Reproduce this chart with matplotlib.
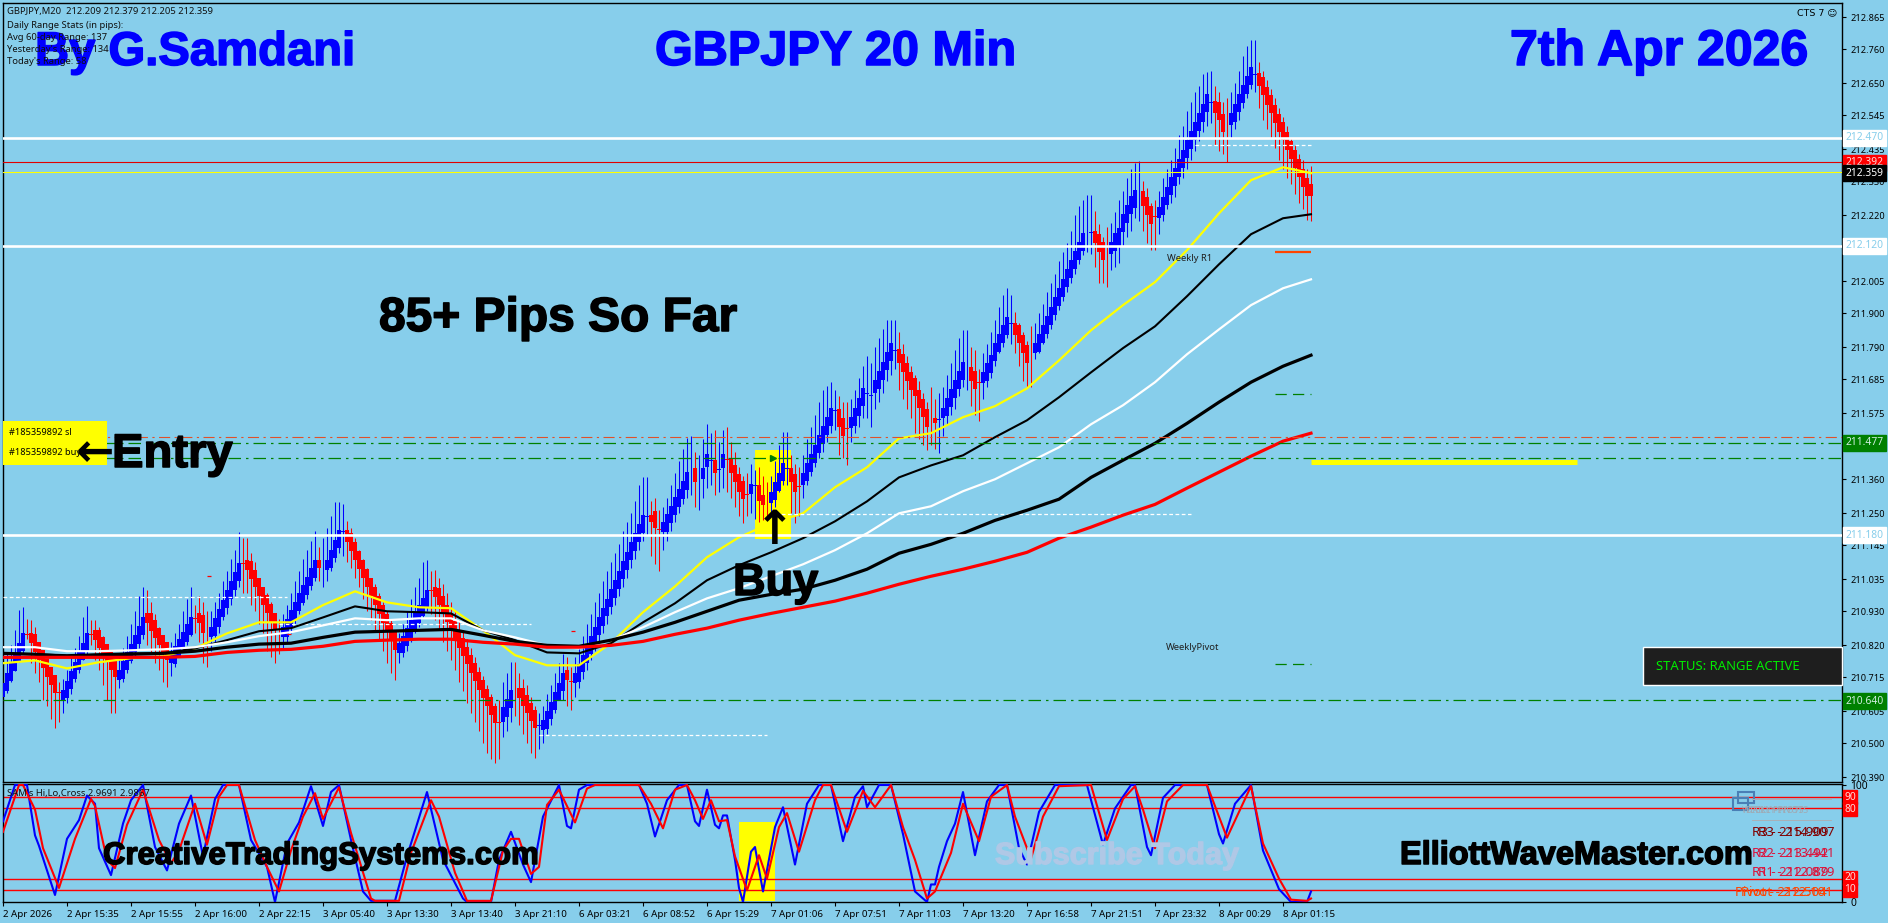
import matplotlib
matplotlib.use('Agg')
import matplotlib.pyplot as plt
import matplotlib.patheffects as pe
import numpy as np
from matplotlib.patches import Rectangle

# GBPJPY M20 candles, one bar at a time
closes = [
    210.696, 210.728, 210.761, 210.794, 210.826, 210.859, 210.852,
    210.826, 210.799, 210.772, 210.745, 210.717, 210.690, 210.663, 210.663,
    210.673, 210.704, 210.735, 210.766, 210.797, 210.828, 210.859, 210.852,
    210.836, 210.812, 210.788, 210.764, 210.740, 210.715,
    210.738, 210.767, 210.796, 210.825, 210.854, 210.882, 210.911,
    210.891, 210.867, 210.843, 210.819, 210.795, 210.771,
    210.793, 210.817, 210.840, 210.864, 210.888, 210.911,
    210.905, 210.891, 210.859, 210.855,
    210.878, 210.908, 210.938, 210.968, 210.998, 211.028, 211.058, 211.087, 211.085,
    211.064, 211.036, 211.008, 210.980, 210.952, 210.924, 210.896, 210.868, 210.868,
    210.878, 210.905, 210.933, 210.960, 210.988, 211.015, 211.042, 211.070, 211.097,
    211.070, 211.072, 211.097, 211.130, 211.163, 211.195, 211.190,
    211.155, 211.126, 211.097, 211.067, 211.038, 211.009, 210.979, 210.950, 210.921, 210.891, 210.862, 210.833, 210.803,
    210.826, 210.851, 210.876, 210.900, 210.925, 210.950, 210.974, 210.999, 210.995,
    210.976, 210.949, 210.921, 210.894, 210.866, 210.839, 210.811, 210.784, 210.757, 210.729, 210.702, 210.675, 210.647, 210.620, 210.592, 210.565, 210.565,
    210.617, 210.645, 210.673, 210.673,
    210.647, 210.622, 210.598, 210.573, 210.549, 210.560,
    210.575, 210.606, 210.636, 210.667, 210.697, 210.728, 210.706, 210.700,
    210.728, 210.758, 210.789, 210.819, 210.850, 210.880, 210.910, 210.941, 210.971, 211.002, 211.032, 211.062, 211.093, 211.123, 211.154, 211.184,
    211.214, 211.243, 211.240, 211.220, 211.200, 211.196,
    211.220, 211.247, 211.274, 211.301, 211.328, 211.355, 211.383, 211.378,
    211.350, 211.355, 211.395, 211.442, 211.422,
    211.380, 211.392, 211.442, 211.422,
    211.380, 211.350, 211.318, 211.295, 211.310, 211.344, 211.340,
    211.289, 211.276, 211.285,
    211.318, 211.350, 211.380, 211.412, 211.395,
    211.350, 211.318, 211.335,
    211.380, 211.412, 211.442, 211.471, 211.504, 211.533, 211.562, 211.592, 211.585,
    211.530, 211.500, 211.525,
    211.562, 211.592, 211.624, 211.657, 211.640, 211.634,
    211.683, 211.712, 211.742, 211.774, 211.803, 211.780,
    211.738, 211.709, 211.679, 211.650, 211.631, 211.592, 211.562, 211.530, 211.555, 211.543, 211.555,
    211.592, 211.624, 211.653, 211.683, 211.712, 211.742, 211.720,
    211.679, 211.653, 211.675,
    211.709, 211.738, 211.764, 211.803, 211.833, 211.862, 211.888, 211.868,
    211.829, 211.803, 211.771, 211.738, 211.767,
    211.803, 211.833, 211.862, 211.891, 211.920, 211.953, 211.982, 212.012, 212.044, 212.074, 212.103, 212.132, 212.162, 212.170, 212.165,
    212.129, 212.100, 212.074, 212.096,
    212.132, 212.162, 212.178, 212.223, 212.253, 212.282, 212.302, 212.290,
    212.250, 212.220, 212.191, 212.214,
    212.246, 212.279, 212.311, 212.344, 212.373, 212.403, 212.432, 212.464, 212.494, 212.523, 212.552, 212.582, 212.614, 212.588,
    212.552, 212.530, 212.490, 212.513,
    212.552, 212.582, 212.614, 212.644, 212.673, 212.702, 212.679,
    212.640, 212.611, 212.578, 212.552, 212.520, 212.490, 212.464, 212.432, 212.403, 212.373, 212.344, 212.311, 212.282, 212.282,
]
opens = [
    210.650, 210.670, 210.703, 210.736, 210.768, 210.801, 210.856,
    210.860, 210.857, 210.830, 210.803, 210.775, 210.748, 210.721, 210.666,
    210.640, 210.646, 210.677, 210.708, 210.739, 210.770, 210.801, 210.856,
    210.868, 210.870, 210.846, 210.822, 210.798, 210.773,
    210.705, 210.709, 210.738, 210.767, 210.796, 210.824, 210.853,
    210.925, 210.925, 210.901, 210.877, 210.853, 210.829,
    210.760, 210.759, 210.782, 210.806, 210.830, 210.853,
    210.907, 210.925, 210.917, 210.857,
    210.845, 210.850, 210.880, 210.910, 210.940, 210.970, 211.000, 211.029, 211.087,
    211.098, 211.094, 211.066, 211.038, 211.010, 210.982, 210.954, 210.926, 210.870,
    210.845, 210.847, 210.875, 210.902, 210.930, 210.957, 210.984, 211.012, 211.039,
    211.098, 211.070, 211.065, 211.072, 211.105, 211.137, 211.188,
    211.195, 211.184, 211.155, 211.125, 211.096, 211.067, 211.037, 211.008, 210.979, 210.949, 210.920, 210.891, 210.861,
    210.795, 210.793, 210.818, 210.842, 210.867, 210.892, 210.916, 210.941, 210.998,
    211.010, 211.007, 210.979, 210.952, 210.924, 210.897, 210.869, 210.842, 210.815, 210.787, 210.760, 210.733, 210.705, 210.678, 210.650, 210.623, 210.568,
    210.570, 210.587, 210.615, 210.675,
    210.680, 210.680, 210.656, 210.631, 210.607, 210.558,
    210.542, 210.548, 210.578, 210.609, 210.639, 210.670, 210.740, 210.702,
    210.695, 210.700, 210.731, 210.761, 210.792, 210.822, 210.852, 210.883, 210.913, 210.944, 210.974, 211.004, 211.035, 211.065, 211.096, 211.126,
    211.156, 211.185, 211.238, 211.245, 211.258, 211.198,
    211.188, 211.189, 211.216, 211.243, 211.270, 211.297, 211.325, 211.376,
    211.395, 211.353, 211.360, 211.400, 211.420,
    211.422, 211.390, 211.395, 211.425,
    211.425, 211.408, 211.376, 211.353, 211.312, 211.312, 211.338,
    211.340, 211.310, 211.287,
    211.282, 211.292, 211.322, 211.354, 211.393,
    211.398, 211.376, 211.337,
    211.340, 211.354, 211.384, 211.413, 211.446, 211.475, 211.504, 211.534, 211.583,
    211.588, 211.558, 211.527,
    211.527, 211.534, 211.566, 211.599, 211.638, 211.632,
    211.640, 211.654, 211.684, 211.716, 211.745, 211.778,
    211.785, 211.767, 211.737, 211.708, 211.689, 211.650, 211.620, 211.588, 211.557, 211.560, 211.553,
    211.558, 211.566, 211.595, 211.625, 211.654, 211.684, 211.718,
    211.725, 211.711, 211.677,
    211.672, 211.680, 211.706, 211.745, 211.775, 211.804, 211.830, 211.866,
    211.870, 211.861, 211.829, 211.796, 211.769,
    211.770, 211.775, 211.804, 211.833, 211.862, 211.895, 211.924, 211.954, 211.986, 212.016, 212.045, 212.074, 212.104, 212.168, 212.163,
    212.170, 212.158, 212.132, 212.098,
    212.095, 212.104, 212.120, 212.165, 212.195, 212.224, 212.244, 212.288,
    212.300, 212.278, 212.249, 212.216,
    212.212, 212.221, 212.253, 212.286, 212.315, 212.345, 212.374, 212.406, 212.436, 212.465, 212.494, 212.524, 212.556, 212.586,
    212.592, 212.588, 212.548, 212.515,
    212.515, 212.524, 212.556, 212.586, 212.615, 212.644, 212.677,
    212.682, 212.669, 212.636, 212.610, 212.578, 212.548, 212.522, 212.490, 212.461, 212.431, 212.402, 212.369, 212.340, 212.322,
]
highs = [
    210.740, 210.790, 210.820, 210.870, 210.935, 210.943, 210.905,
    210.900, 210.880, 210.830, 210.800, 210.770, 210.745, 210.715, 210.700,
    210.710, 210.740, 210.785, 210.810, 210.850, 210.910, 210.946, 210.900,
    210.900, 210.880, 210.850, 210.820, 210.800, 210.770,
    210.780, 210.810, 210.850, 210.890, 210.930, 210.980, 211.008,
    211.000, 210.960, 210.920, 210.880, 210.850, 210.830,
    210.830, 210.860, 210.890, 210.930, 210.970, 211.010,
    210.950, 210.980, 210.960, 210.930,
    210.930, 210.960, 210.990, 211.030, 211.060, 211.100, 211.130, 211.188, 211.170,
    211.170, 211.120, 211.090, 211.040, 211.010, 210.990, 210.960, 210.920, 210.905,
    210.920, 210.950, 210.990, 211.030, 211.060, 211.100, 211.130, 211.160, 211.190,
    211.140, 211.170, 211.200, 211.240, 211.285, 211.285, 211.280,
    211.225, 211.200, 211.170, 211.130, 211.100, 211.070, 211.040, 211.020, 210.990, 210.960, 210.930, 210.900, 210.870,
    210.860, 210.890, 210.930, 210.970, 211.010, 211.040, 211.090, 211.096, 211.060,
    211.065, 211.040, 211.020, 210.990, 210.960, 210.930, 210.900, 210.870, 210.840, 210.810, 210.780, 210.750, 210.720, 210.690, 210.660, 210.630, 210.640,
    210.700, 210.730, 210.764, 210.765,
    210.730, 210.710, 210.690, 210.650, 210.620, 210.600,
    210.620, 210.660, 210.690, 210.730, 210.760, 210.790, 210.780, 210.750,
    210.780, 210.810, 210.850, 210.890, 210.920, 210.960, 210.990, 211.030, 211.060, 211.090, 211.120, 211.150, 211.190, 211.220, 211.250, 211.290,
    211.340, 211.366, 211.366, 211.290, 211.300, 211.260,
    211.270, 211.300, 211.340, 211.380, 211.420, 211.460, 211.494, 211.500,
    211.450, 211.440, 211.490, 211.540, 211.510,
    211.520, 211.480, 211.520, 211.530,
    211.480, 211.450, 211.400, 211.370, 211.380, 211.410, 211.390,
    211.400, 211.370, 211.350,
    211.370, 211.420, 211.470, 211.514, 211.514,
    211.440, 211.410, 211.400,
    211.440, 211.490, 211.530, 211.570, 211.610, 211.650, 211.665, 211.676, 211.650,
    211.630, 211.610, 211.610,
    211.620, 211.650, 211.690, 211.730, 211.760, 211.740,
    211.790, 211.820, 211.850, 211.878, 211.878, 211.878,
    211.840, 211.800, 211.760, 211.730, 211.700, 211.680, 211.640, 211.610, 211.660, 211.620, 211.640,
    211.660, 211.700, 211.740, 211.780, 211.820, 211.846, 211.846,
    211.790, 211.780, 211.720,
    211.770, 211.800, 211.840, 211.880, 211.920, 211.960, 211.982, 211.960,
    211.905, 211.870, 211.840, 211.810, 211.860,
    211.870, 211.900, 211.930, 211.970, 212.000, 212.030, 212.070, 212.100, 212.130, 212.170, 212.220, 212.250, 212.268, 212.285, 212.285,
    212.235, 212.190, 212.150, 212.180,
    212.195, 212.230, 212.270, 212.300, 212.340, 212.370, 212.390, 212.395,
    212.330, 212.310, 212.260, 212.270,
    212.300, 212.340, 212.370, 212.400, 212.440, 212.480, 212.510, 212.560, 212.590, 212.620, 212.640, 212.680, 212.686, 212.690,
    212.640, 212.620, 212.590, 212.600,
    212.620, 212.650, 212.690, 212.740, 212.770, 212.790, 212.790,
    212.718, 212.690, 212.660, 212.630, 212.600, 212.570, 212.540, 212.510, 212.470, 212.450, 212.420, 212.400, 212.370, 212.380,
]
lows = [
    210.640, 210.665, 210.700, 210.735, 210.765, 210.790, 210.840,
    210.760, 210.730, 210.700, 210.640, 210.620, 210.580, 210.550, 210.570,
    210.600, 210.630, 210.660, 210.700, 210.730, 210.770, 210.790, 210.820,
    210.770, 210.740, 210.690, 210.640, 210.600, 210.598,
    210.680, 210.700, 210.730, 210.760, 210.780, 210.810, 210.840,
    210.820, 210.790, 210.760, 210.740, 210.700, 210.685,
    210.720, 210.750, 210.780, 210.800, 210.820, 210.850,
    210.860, 210.830, 210.760, 210.750,
    210.800, 210.830, 210.860, 210.900, 210.920, 210.950, 210.980, 211.010, 210.990,
    210.990, 210.950, 210.930, 210.890, 210.860, 210.800, 210.780, 210.760, 210.790,
    210.810, 210.830, 210.860, 210.890, 210.920, 210.950, 210.970, 211.000, 211.030,
    211.030, 211.010, 211.030, 211.060, 211.090, 211.120, 211.110,
    211.090, 211.070, 211.040, 211.010, 210.970, 210.930, 210.900, 210.870, 210.840, 210.800, 210.760, 210.730, 210.705,
    210.760, 210.780, 210.800, 210.830, 210.860, 210.880, 210.910, 210.930, 210.920,
    210.900, 210.870, 210.830, 210.800, 210.770, 210.740, 210.700, 210.670, 210.630, 210.600, 210.570, 210.540, 210.500, 210.470, 210.450, 210.435, 210.450,
    210.520, 210.540, 210.570, 210.590,
    210.560, 210.530, 210.500, 210.470, 210.452, 210.480,
    210.500, 210.530, 210.560, 210.600, 210.640, 210.640, 210.620, 210.610,
    210.650, 210.680, 210.710, 210.740, 210.770, 210.800, 210.830, 210.860, 210.890, 210.920, 210.950, 210.980, 211.010, 211.040, 211.070, 211.100,
    211.130, 211.160, 211.180, 211.110, 211.085, 211.060,
    211.130, 211.160, 211.190, 211.220, 211.250, 211.280, 211.300, 211.310,
    211.270, 211.260, 211.300, 211.330, 211.340,
    211.308, 211.320, 211.330, 211.320,
    211.300, 211.270, 211.240, 211.217, 211.240, 211.250, 211.230,
    211.220, 211.226, 211.230,
    211.240, 211.270, 211.320, 211.340, 211.340,
    211.250, 211.217, 211.240,
    211.300, 211.340, 211.370, 211.400, 211.430, 211.450, 211.480, 211.510, 211.520,
    211.440, 211.429, 211.406,
    211.480, 211.510, 211.530, 211.560, 211.560, 211.530,
    211.590, 211.610, 211.640, 211.680, 211.700, 211.720,
    211.650, 211.620, 211.590, 211.560, 211.510, 211.490, 211.470, 211.455, 211.470, 211.460, 211.445,
    211.500, 211.540, 211.570, 211.590, 211.630, 211.660, 211.650,
    211.600, 211.570, 211.550,
    211.620, 211.660, 211.690, 211.730, 211.770, 211.790, 211.820, 211.800,
    211.770, 211.730, 211.680, 211.660, 211.660,
    211.750, 211.770, 211.800, 211.820, 211.850, 211.880, 211.910, 211.940, 211.970, 212.000, 212.030, 212.060, 212.090, 212.100, 212.095,
    212.050, 212.000, 211.999, 211.986,
    212.040, 212.050, 212.063, 212.120, 212.150, 212.170, 212.210, 212.200,
    212.170, 212.130, 212.106, 212.106,
    212.160, 212.200, 212.240, 212.260, 212.280, 212.320, 212.340, 212.370, 212.400, 212.430, 212.460, 212.490, 212.510, 212.520,
    212.450, 212.430, 212.420, 212.393,
    212.470, 212.500, 212.530, 212.570, 212.600, 212.630, 212.620,
    212.570, 212.530, 212.500, 212.470, 212.440, 212.400, 212.370, 212.340, 212.320, 212.290, 212.260, 212.240, 212.205, 212.201,
]

# moving averages, one reading every 8 bars
ma_bars = [0, 8, 16, 24, 32, 40, 48, 56, 64, 72, 80, 88, 96, 104, 112, 120, 128, 136, 144, 152, 160,
           168, 176, 184, 192, 200, 208, 216, 224, 232, 240, 248, 256, 264, 272, 280, 288, 296, 304, 312, 320, 327]
ma_yellow = [210.761, 210.770, 210.744, 210.764, 210.777, 210.783, 210.809, 210.858, 210.894, 210.894, 210.950,
             210.995, 210.959, 210.943, 210.940, 210.868, 210.787, 210.754, 210.754, 210.826, 210.927,
             211.011, 211.106, 211.171, 211.217, 211.249, 211.334, 211.399, 211.493, 211.510, 211.562,
             211.598, 211.656, 211.747, 211.845, 211.927, 212.002, 212.106, 212.226, 212.334, 212.376, 212.357]
ma_black_thin = [210.793, 210.790, 210.787, 210.790, 210.793, 210.793, 210.809, 210.836, 210.865, 210.875, 210.910,
                 210.946, 210.930, 210.927, 210.923, 210.868, 210.836, 210.796, 210.793, 210.826, 210.894,
                 210.956, 211.031, 211.080, 211.122, 211.168, 211.223, 211.288, 211.366, 211.405, 211.438,
                 211.497, 211.552, 211.627, 211.708, 211.787, 211.858, 211.956, 212.060, 212.158, 212.210, 212.223]
ma_white = [210.813, 210.813, 210.800, 210.800, 210.803, 210.806, 210.813, 210.829, 210.849, 210.862, 210.884,
            210.907, 210.901, 210.907, 210.907, 210.868, 210.845, 210.819, 210.809, 210.836, 210.878,
            210.927, 210.972, 211.005, 211.044, 211.083, 211.129, 211.184, 211.249, 211.272, 211.321,
            211.360, 211.412, 211.464, 211.539, 211.601, 211.676, 211.767, 211.848, 211.927, 211.982, 212.011]
ma_black_thick = [210.793, 210.790, 210.783, 210.787, 210.790, 210.793, 210.800, 210.813, 210.823, 210.826, 210.845,
                  210.862, 210.865, 210.868, 210.871, 210.852, 210.832, 210.819, 210.816, 210.836, 210.862,
                  210.894, 210.930, 210.966, 210.985, 211.002, 211.031, 211.067, 211.119, 211.148, 211.184,
                  211.226, 211.259, 211.295, 211.366, 211.422, 211.477, 211.542, 211.611, 211.676, 211.728, 211.764]
ma_red = [210.780, 210.780, 210.780, 210.780, 210.780, 210.780, 210.783, 210.796, 210.803, 210.806, 210.816,
          210.832, 210.836, 210.839, 210.839, 210.829, 210.823, 210.813, 210.813, 210.819, 210.832,
          210.855, 210.875, 210.901, 210.923, 210.943, 210.963, 210.989, 211.018, 211.044, 211.067,
          211.093, 211.122, 211.168, 211.204, 211.243, 211.278, 211.331, 211.383, 211.435, 211.484, 211.510]

# stochastic panel, turning points
stoch_blue_bars = [0, 3, 6, 8, 9, 13, 16, 19, 21, 23, 24, 27, 30, 32, 35, 38, 41, 44, 47, 50, 53, 55, 59, 62, 66, 68,
                   71, 74, 77, 80, 82, 84, 87, 90, 92, 98, 101, 106, 110, 115, 116, 122, 124, 127, 130, 132, 135, 139,
                   141, 142, 144, 146, 159, 161, 163, 166, 169, 171, 173, 174, 176, 178, 179, 180, 181, 183, 184, 185,
                   187, 188, 190, 193, 195, 198, 201, 204, 207, 210, 213, 215, 216, 219, 222, 225, 228, 231, 232, 233,
                   234, 236, 238, 240, 243, 246, 249, 251, 254, 256, 259, 263, 271, 275, 278, 282, 283, 286, 287, 290,
                   293, 301, 304, 305, 308, 312, 315, 319, 322, 326, 327]
stoch_blue = [69, 100, 100, 57, 48, 6, 54, 70, 91, 84, 46, 23, 67, 87, 100, 47, 27, 67, 91, 39, 88, 100, 100, 53, 30, 0,
              50, 68, 99, 65, 94, 100, 53, 9, 1, 1, 39, 94, 36, 3, 0, 0, 36, 60, 32, 17, 73, 100,
              65, 63, 96, 100, 100, 84, 56, 87, 100, 100, 69, 65, 96, 66, 63, 74, 74, 36, 12, 0,
              43, 47, 9, 64, 81, 32, 84, 100, 100, 52, 90, 99, 81, 100, 100, 58, 9, 0, 15, 15,
              30, 52, 67, 94, 40, 86, 100, 100, 46, 32, 77, 100, 100, 49, 80, 100, 100, 47, 40, 89,
              100, 100, 58, 50, 84, 100, 44, 11, 0, 0, 9]
stoch_red_bars = [0, 4, 5, 8, 10, 14, 18, 22, 23, 26, 28, 31, 35, 39, 42, 44, 48, 51, 54, 56, 59, 63, 66, 69, 72, 75,
                  78, 80, 84, 87, 92, 93, 99, 102, 107, 109, 113, 116, 122, 125, 127, 129, 132, 134, 136, 139, 143,
                  146, 148, 159, 162, 165, 168, 171, 173, 175, 177, 179, 181, 183, 186, 189, 191, 194, 196, 199, 203,
                  205, 207, 211, 215, 218, 222, 225, 228, 231, 233, 237, 240, 244, 247, 251, 253, 257, 260, 264, 272,
                  276, 280, 283, 285, 288, 291, 295, 301, 306, 312, 315, 319, 322, 326, 327]
stoch_red = [60, 100, 100, 79, 46, 12, 54, 88, 82, 36, 29, 66, 96, 53, 33, 44, 84, 49, 90, 100, 100, 53, 30, 9, 44, 73,
             93, 71, 98, 59, 3, 1, 1, 42, 87, 73, 25, 1, 1, 44, 54, 54, 24, 30, 83, 96, 68,
             97, 100, 100, 84, 63, 96, 100, 87, 71, 87, 69, 70, 39, 10, 40, 20, 64, 76, 43, 87,
             100, 100, 60, 95, 81, 100, 64, 36, 3, 9, 42, 84, 52, 90, 100, 73, 37, 73, 99, 100,
             53, 88, 99, 79, 46, 86, 100, 100, 55, 99, 50, 20, 2, 1, 3]
stoch_levels = [90, 80, 20, 10]

# price levels
white_levels = [212.470, 212.120, 211.180]
red_level = 212.392
yellow_level = 212.359
dashdot_orange = 211.497
dashdot_green = [211.477, 211.430, 210.640]
price_ticks = [212.865, 212.760, 212.650, 212.545, 212.435, 212.330, 212.220, 212.115, 212.005, 211.900, 211.790, 211.685,
               211.575, 211.465, 211.360, 211.250, 211.145, 211.035, 210.930, 210.820, 210.715, 210.605, 210.500, 210.390]
time_labels = ['2 Apr 2026', '2 Apr 15:35', '2 Apr 15:55', '2 Apr 16:00', '2 Apr 22:15', '3 Apr 05:40', '3 Apr 13:30',
               '3 Apr 13:40', '3 Apr 21:10', '6 Apr 03:21', '6 Apr 08:52', '6 Apr 15:29', '7 Apr 01:06', '7 Apr 07:51',
               '7 Apr 11:03', '7 Apr 13:20', '7 Apr 16:58', '7 Apr 21:51', '7 Apr 23:32', '8 Apr 00:29', '8 Apr 01:15']
time_bars = [0, 16, 32, 48, 64, 80, 96, 112, 128, 144, 160, 176, 192, 208, 224, 240, 256, 272, 288, 304, 320]
info_lines = ['GBPJPY,M20  212.209 212.379 212.205 212.359', 'Daily Range Stats (in pips):', 'Avg 60-day Range: 137',
              "Yesterday's Range: 134", "Today's Range: 58"]

W, H = 1888, 923
SKY = '#87CEEB'
plt.rcParams['font.family'] = ['Noto Sans', 'DejaVu Sans']
BOLD = ['Liberation Sans', 'DejaVu Sans']
# the captions on the chart are heavier than plain bold
HEAVY = [pe.withStroke(linewidth=1.1, foreground='black')]
HEAVY_BLUE = [pe.withStroke(linewidth=1.1, foreground='#0000FF')]
HEAVY_PALE = [pe.withStroke(linewidth=1.0, foreground='#B0C8E6')]

fig = plt.figure(figsize=(W / 100, H / 100), dpi=100, facecolor=SKY)


def panel(top, bottom):
    a = fig.add_axes([2.5 / W, 1 - bottom / H, (1842 - 2.5) / W, (bottom - top) / H], facecolor=SKY)
    a.set_xlim(-0.125, 459.75)
    a.tick_params(axis='y', right=True, left=False, labelright=True, labelleft=False, length=3, width=0.8,
                  labelsize=6.6, pad=3)
    a.tick_params(axis='x', length=3, width=0.8, labelsize=6.6, pad=3)
    for s in a.spines.values():
        s.set_linewidth(1.0)
    return a


def tag(y, label, bg, fg):
    fig.text(1864.5 / W, 1 - y / H, label, ha='center', va='center', fontsize=7.4, color=fg, zorder=20,
             bbox=dict(boxstyle='square,pad=0.2', fc=bg, ec=bg))


def label(x, y, s, size, color='black', **kw):
    fig.text(x / W, 1 - y / H, s, fontsize=size, color=color, va='baseline', zorder=30, **kw)


ax = panel(3, 782)
ax.set_ylim(210.374, 212.911)
ax.set_yticks(price_ticks, [f'{p:.3f}' for p in price_ticks])
ax.set_xticks([])

bars = np.arange(len(closes))
closes_a, opens_a = np.array(closes), np.array(opens)
up = closes_a >= opens_a
colors = np.where(up, '#0000FF', '#FF0000')

# highlight boxes go under the candles
ax.add_patch(Rectangle((188, 211.165), 9, 0.289, fc='#FFFF00', ec='none', zorder=1))
ax.vlines(bars, lows, highs, colors=colors, lw=0.75, zorder=2)
ax.bar(bars, np.abs(closes_a - opens_a), bottom=np.minimum(closes_a, opens_a), width=0.9, color=colors, zorder=3)

ax.plot(ma_bars, ma_yellow, color='#FFFF00', lw=1.6, zorder=4)
ax.plot(ma_bars, ma_black_thin, color='black', lw=1.5, zorder=5)
ax.plot(ma_bars, ma_white, color='white', lw=1.6, zorder=5)
ax.plot(ma_bars, ma_black_thick, color='black', lw=2.3, zorder=6)
ax.plot(ma_bars, ma_red, color='#FF0000', lw=2.3, zorder=7)

for lv in white_levels:
    ax.axhline(lv, color='white', lw=1.9, zorder=8)
ax.axhline(red_level, color='#E00000', lw=0.8, zorder=8)
ax.axhline(yellow_level, color='#FFFF00', lw=0.8, zorder=8)
ax.axhline(dashdot_orange, color='#E0502A', lw=0.8, ls=(0, (10, 4, 2, 4)), zorder=8)
for lv in dashdot_green:
    ax.axhline(lv, color='#008000', lw=0.9, ls=(0, (10, 4, 2, 4)), zorder=8)

# short dashed white levels and pivot stubs
ax.hlines([210.976, 210.888, 210.526, 211.246, 212.448], [0, 69, 134, 193, 298], [71, 132, 191, 297, 327],
          colors='white', lw=0.9, ls=(0, (3, 2)), zorder=4)
ax.hlines(212.099, 318, 327, colors='#FF4500', lw=1.6, zorder=4)
ax.hlines([211.637, 210.757], 318, 327, colors='#008000', lw=0.9, ls=(0, (9, 5)), zorder=4)
ax.hlines([211.044, 210.855, 210.865], [51, 71, 142], [52, 72, 143], colors='#FF0000', lw=0.9, zorder=4)
ax.hlines(211.415, 327, 393.5, colors='#FFFF00', lw=3.6, zorder=9)
ax.plot([192.5], [211.430], marker='>', ms=4, color='#008000', zorder=10)

tag(138, '212.470', 'white', '#87CEEB')
tag(163, '212.392', '#FF0000', '#FFD8D8')
tag(173, '212.359', 'black', 'white')
tag(246, '212.120', 'white', '#87CEEB')
tag(443, '211.477', '#008000', '#CFEFDF')
tag(535, '211.180', 'white', '#87CEEB')
tag(701, '210.640', '#008000', '#CFEFDF')

ax2 = panel(783.5, 902)
ax2.set_ylim(0, 101.3)
ax2.add_patch(Rectangle((184, 0.5), 9, 68, fc='#FFFF00', ec='none', zorder=1))
ax2.plot(stoch_blue_bars, stoch_blue, color='#0000FF', lw=1.5, zorder=3)
ax2.plot(stoch_red_bars, stoch_red, color='#FF0000', lw=1.5, zorder=4)
for lv in stoch_levels:
    ax2.axhline(lv, color='#FF0000', lw=1.0, zorder=2)
ax2.set_yticks([100, 0], ['100', '0'])
ax2.tick_params(axis='y', labelsize=7.4)
ax2.set_xticks(time_bars, time_labels, ha='left')
ax2.tick_params(axis='x', labelsize=7.0)
for lv, y in zip(stoch_levels, [797, 809, 878, 890]):
    fig.text(1850 / W, 1 - y / H, str(lv), ha='center', va='center', fontsize=7.4, color='#FFD8D8', zorder=20,
             bbox=dict(boxstyle='square,pad=0.15', fc='#FF0000', ec='#FF0000'))

# top left readouts and big captions
for y, s in zip([14, 28, 40, 52, 64], info_lines):
    fig.text(7 / W, 1 - y / H, s, fontsize=6.8, color='#101010', va='baseline', zorder=31)
label(1797, 15, 'CTS 7 \u263a', 6.8, family=['DejaVu Sans'])
label(35, 65, 'By G.Samdani', 34, '#0000FF', family=BOLD, weight='bold', path_effects=HEAVY_BLUE)
label(655, 65, 'GBPJPY 20 Min', 35, '#0000FF', family=BOLD, weight='bold', path_effects=HEAVY_BLUE)
label(1510, 65, '7th Apr 2026', 36, '#0000FF', family=BOLD, weight='bold', path_effects=HEAVY_BLUE)
label(379, 331, '85+ Pips So Far', 34.5, family=BOLD, weight='bold', path_effects=HEAVY)
label(76, 466, '\u2190', 33, family=['DejaVu Sans'], weight='bold')
label(112, 467, 'Entry', 34, family=BOLD, weight='bold', path_effects=HEAVY)
label(733, 595, 'Buy', 32.5, family=BOLD, weight='bold', path_effects=HEAVY)
fig.text(775 / W, 1 - 532 / H, '\u2191', fontsize=34, family=['DejaVu Sans'], weight='bold', ha='center', va='center', zorder=30)
label(103, 864, 'CreativeTradingSystems.com', 22.4, family=BOLD, weight='bold', path_effects=HEAVY)
label(1400, 864, 'ElliottWaveMaster.com', 23.4, family=BOLD, weight='bold', path_effects=HEAVY)
label(995, 864, 'Subscribe Today', 22, '#B0C8E6', family=BOLD, weight='bold', path_effects=HEAVY_PALE)

# order labels on the left
fig.patches.append(Rectangle((3 / W, 1 - 465 / H), 104 / W, 44 / H, transform=fig.transFigure, fc='#FFFF00', ec='none', zorder=15))
label(9, 435, '#185359892 sl', 6.6)
label(9, 455, '#185359892 buy', 6.6)
label(1167, 261, 'Weekly R1', 6.8, '#202020')
label(1166, 650, 'WeeklyPivot', 6.8, '#202020')
label(7, 796, "SAM's Hi,Lo,Cross 2.9691 2.9867", 6.8, '#101010')

# status box
fig.patches.append(Rectangle((1643 / W, 1 - 685 / H), 199 / W, 38 / H, transform=fig.transFigure, fc='#1E1E1E', ec='white', lw=1, zorder=15))
fig.text(1656 / W, 1 - 667 / H, 'STATUS: RANGE ACTIVE', fontsize=9.4, color='#00EE00', va='center', weight='bold', zorder=30)

# pivot panel in the corner, two copies stacked as on the chart
fig.patches.append(Rectangle((1738 / W, 1 - 803 / H), 16 / W, 11 / H, transform=fig.transFigure, fc='none', ec='#4A7FB5', lw=1.5, zorder=15))
fig.patches.append(Rectangle((1733 / W, 1 - 810 / H), 15 / W, 12 / H, transform=fig.transFigure, fc='none', ec='#4A7FB5', lw=1.5, zorder=15))
fig.patches.append(Rectangle((1752 / W, 1 - 800 / H), 80 / W, 1 / H, transform=fig.transFigure, fc='#A8B0B8', ec='none', zorder=15))
fig.patches.append(Rectangle((1752 / W, 1 - 821 / H), 80 / W, 1.5 / H, transform=fig.transFigure, fc='#A8B0B8', ec='none', zorder=15))
label(1742, 813, 'WEEKLY PIVOTS', 6.4, '#A0AAB4')
label(1746, 813, 'DAILY PIVOTS', 6.4, '#A0AAB4')
for y, name, val_a, val_b, col in [(836, 'R3', '215.909', '214.907', '#800000'), (857, 'R2', '213.492', '213.441', '#DC143C'),
                                   (876, 'R1', '212.089', '212.879', '#DC143C'), (896, 'Pivot', '212.504', '212.101', '#FF4500')]:
    x0 = 1735 if name == 'Pivot' else 1752
    label(x0, y, f'{name} - {val_a}', 9.6, col)
    label(x0 + 6, y, f'{name} - {val_b}', 9.6, col)

fig.savefig('out.png', dpi=100, facecolor=SKY)
